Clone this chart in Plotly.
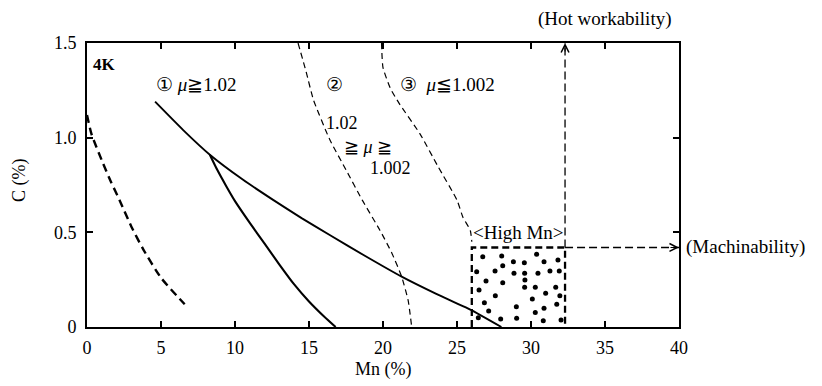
import plotly.graph_objects as go

# ---- data ----
x_ticks = [0, 5, 10, 15, 20, 25, 30, 35, 40]
y_ticks = [0, 0.5, 1.0, 1.5]
y_tick_text = ["0", "0.5", "1.0", "1.5"]

# bold dashed 4K boundary near the y axis
c4k_x = [0.0, 0.3, 1.0, 1.6, 2.2, 3.0, 3.8, 5.0, 6.6]
c4k_y = [1.12, 1.02, 0.88, 0.77, 0.67, 0.53, 0.41, 0.26, 0.12]

# solid curve (upper, long)
s1_x = [4.6, 6.5, 8.3, 10.5, 12.6, 14.5, 16.4, 18.8, 21.26, 23.6, 25.9, 28.0]
s1_y = [1.19, 1.04, 0.91, 0.78, 0.67, 0.575, 0.486, 0.375, 0.266, 0.175, 0.092, 0.0]

# solid branch curve
s2_x = [8.3, 8.8, 9.4, 10.0, 11.0, 12.0, 13.0, 14.0, 15.0, 16.0, 16.8]
s2_y = [0.91, 0.83, 0.745, 0.665, 0.55, 0.44, 0.33, 0.225, 0.135, 0.057, 0.0]

# thin dashed curve (2)
d2_x = [14.26, 14.8, 15.3, 16.4, 17.5, 18.6, 19.8, 20.6, 21.26, 21.7, 21.94]
d2_y = [1.5, 1.35, 1.2, 0.99, 0.83, 0.67, 0.51, 0.39, 0.266, 0.14, 0.0]

# thin dashed curve (3)
d3_x = [19.9, 20.0, 20.5, 21.1, 22.5, 23.7, 25.0, 25.4, 25.9, 26.0]
d3_y = [1.5, 1.37, 1.26, 1.18, 1.02, 0.85, 0.67, 0.58, 0.51, 0.45]

# High Mn region
box_x = [26.0, 32.3]
box_y = [0.0, 0.42]
axis_top = 1.5
axis_right = 40

# stipple dots inside the High Mn region
dots_x = [26.74, 28.02, 28.81, 29.55, 30.38, 30.88, 31.82,
          26.33, 27.57, 28.09, 28.85, 29.57, 30.47, 31.28, 31.91,
          26.96, 28.09, 29.59,
          26.49, 27.59, 29.57, 30.29, 31.67,
          26.85, 29.01, 30.09, 30.99, 31.95,
          27.14, 30.29, 30.88, 31.74,
          26.44, 27.95, 29.03, 30.83, 32.03]
dots_y = [0.371, 0.375, 0.345, 0.340, 0.384, 0.345, 0.354,
          0.292, 0.296, 0.324, 0.284, 0.284, 0.284, 0.296, 0.296,
          0.243, 0.234, 0.248,
          0.195, 0.165, 0.210, 0.210, 0.210,
          0.128, 0.107, 0.148, 0.178, 0.165,
          0.085, 0.076, 0.099, 0.120,
          0.049, 0.042, 0.046, 0.033, 0.037]

FONT = "Liberation Serif, DejaVu Serif, serif"
X0, X1 = 0, 40
Y0, Y1 = 0, 1.5

fig = go.Figure()

fig.add_trace(go.Scatter(x=c4k_x, y=c4k_y, mode="lines",
                         line=dict(color="black", width=2.4, dash="8px,5px", shape="spline", smoothing=0.6)))
fig.add_trace(go.Scatter(x=s1_x, y=s1_y, mode="lines",
                         line=dict(color="black", width=1.9, shape="spline", smoothing=0.5)))
fig.add_trace(go.Scatter(x=s2_x, y=s2_y, mode="lines",
                         line=dict(color="black", width=2.1, shape="spline", smoothing=0.5)))
fig.add_trace(go.Scatter(x=d2_x, y=d2_y, mode="lines",
                         line=dict(color="black", width=1.2, dash="6px,4px", shape="spline", smoothing=0.5)))
fig.add_trace(go.Scatter(x=d3_x, y=d3_y, mode="lines",
                         line=dict(color="black", width=1.2, dash="6px,4px", shape="spline", smoothing=0.5)))

# High Mn box (bold dashed)
fig.add_trace(go.Scatter(
    x=[box_x[0], box_x[0], box_x[1], box_x[1]],
    y=[box_y[0], box_y[1], box_y[1], box_y[0]],
    mode="lines", line=dict(color="black", width=2.3, dash="7px,4px")))

# hot workability dashed line
fig.add_trace(go.Scatter(x=[box_x[1], box_x[1]], y=[box_y[1], axis_top],
                         mode="lines", line=dict(color="black", width=1.3, dash="8px,4px")))
# machinability dashed line
fig.add_trace(go.Scatter(x=[box_x[1], axis_right], y=[box_y[1], box_y[1]],
                         mode="lines", line=dict(color="black", width=1.3, dash="8px,4px")))

# dots
fig.add_trace(go.Scatter(x=dots_x, y=dots_y, mode="markers",
                         marker=dict(color="black", size=5)))

ann = []
def txt(x, y, s, size=17, xanchor="left", yanchor="middle", ref="data", angle=0):
    if ref == "paper":
        xr, yr = "paper", "paper"
    else:
        xr, yr = "x", "y"
    ann.append(dict(x=x, y=y, xref=xr, yref=yr, text=s, showarrow=False,
                    xanchor=xanchor, yanchor=yanchor, textangle=angle,
                    font=dict(family=FONT, size=size, color="black")))

def px(xv):
    return (xv - X0) / (X1 - X0)

def py(yv):
    return (yv - Y0) / (Y1 - Y0)

txt(0.3, 1.384, "<b>4K</b>", size=17)
txt(4.5, 1.28, "① <i>μ</i>≧1.02", size=19)
txt(16.0, 1.28, "②", size=19)
txt(16.0, 1.078, "1.02", size=18)
txt(17.2, 0.95, "≧ <i>μ</i> ≧", size=18)
txt(19.0, 0.84, "1.002", size=18)
txt(21.0, 1.28, "③  <i>μ</i>≦1.002", size=19)
txt((box_x[0] + box_x[1]) / 2, 0.50, "<High Mn>", size=19, xanchor="center")
txt(px(35.0), py(1.625), "(Hot workability)", size=19, xanchor="center", ref="paper")
txt(px(40.35), py(box_y[1]), "(Machinability)", size=19, ref="paper")
txt(-0.113, 0.518, "C (%)", size=18, xanchor="center", ref="paper", angle=-90)
txt(0.5, -0.151, "Mn (%)", size=18, xanchor="center", ref="paper")

# arrowheads
ann.append(dict(x=box_x[1], y=axis_top, xref="x", yref="y", ax=0, ay=10,
                showarrow=True, arrowhead=5, arrowsize=1.4, arrowwidth=1.1, arrowcolor="black", text=""))
ann.append(dict(x=axis_right, y=box_y[1], xref="x", yref="y", ax=-10, ay=0,
                showarrow=True, arrowhead=5, arrowsize=1.4, arrowwidth=1.1, arrowcolor="black", text=""))

# the page body has an 8px default margin, so the figure is 8px smaller and margins shifted
fig.update_layout(
    width=814, height=378,
    margin=dict(l=79, r=143, t=35, b=59),
    paper_bgcolor="white", plot_bgcolor="white",
    showlegend=False,
    annotations=ann,
    font=dict(family=FONT, size=18, color="black"),
)
fig.update_xaxes(range=[X0, X1], tickvals=x_ticks, ticks="inside", ticklen=6, tickwidth=1.5,
                 tickcolor="black", showline=True, linewidth=2, linecolor="black", mirror="ticks",
                 showgrid=False, zeroline=False, ticklabelstandoff=3,
                 tickfont=dict(family=FONT, size=18))
fig.update_yaxes(range=[Y0, Y1], tickvals=y_ticks, ticktext=y_tick_text, ticks="inside", ticklen=6,
                 tickwidth=1.5, tickcolor="black", showline=True, linewidth=2, linecolor="black",
                 mirror="ticks", showgrid=False, zeroline=False, ticklabelstandoff=5,
                 tickfont=dict(family=FONT, size=18))

fig.write_html("out.html")
